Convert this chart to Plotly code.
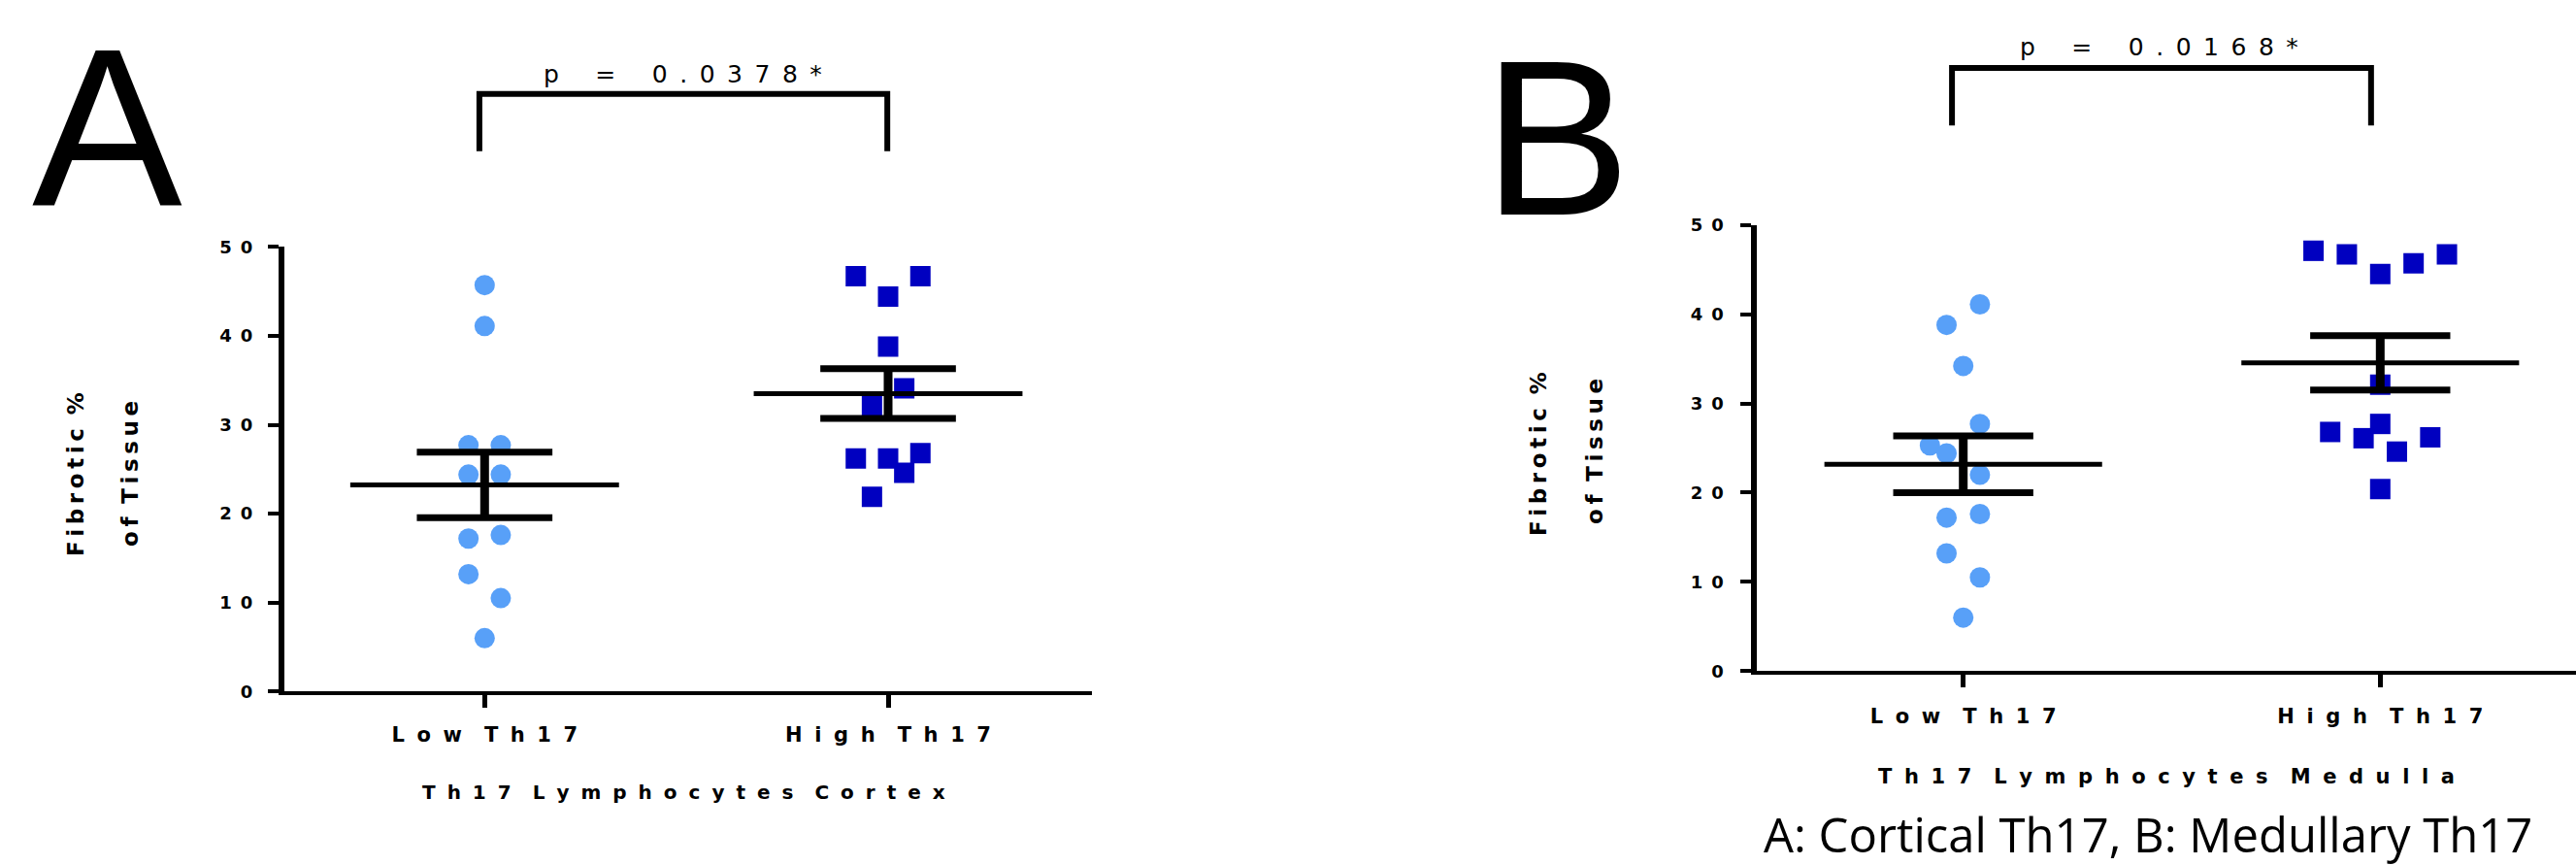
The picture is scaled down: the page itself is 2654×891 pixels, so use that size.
import numpy as np
import plotly.graph_objects as go

W, H = 2654, 891

# ---------------- data ----------------
categories = ["Low Th17", "High Th17"]
y_ticks = [0, 10, 20, 30, 40, 50]

# Panel A : cortex
low_a = [45.7, 41.1, 27.7, 27.7, 24.4, 24.4, 17.2, 17.6, 13.2, 10.5, 6.0]
low_a_slot = [0, 0, -1, 1, -1, 1, -1, 1, -1, 1, 0]
high_a = [46.7, 46.7, 44.4, 38.8, 34.1, 32.1, 26.2, 26.2, 26.8, 24.6, 21.9]
high_a_slot = [-2, 2, 0, 0, 1, -1, -2, 0, 2, 1, -1]
p_a = "p = 0.0378*"
title_a = "Th17 Lymphocytes Cortex"

# Panel B : medulla
low_b = [41.1, 38.8, 34.2, 27.7, 25.3, 24.4, 22.0, 17.2, 17.6, 13.2, 10.5, 6.0]
low_b_slot = [1, -1, 0, 1, -2, -1, 1, -1, 1, -1, 1, 0]
high_b = [47.1, 46.7, 44.5, 45.7, 46.7, 32.1, 27.7, 26.8, 26.1, 24.6, 26.2, 20.4]
high_b_slot = [-4, -2, 0, 2, 4, 0, 0, -3, -1, 1, 3, 0]
p_b = "p = 0.0168*"
title_b = "Th17 Lymphocytes Medulla"

ylab1, ylab2 = "Fibrotic %", "of Tissue"
caption = "A: Cortical Th17, B: Medullary Th17"

# ---------------- styling ----------------
LOW_COLOR = "#58a0f8"
HIGH_COLOR = "#0000c0"
SLOT = 0.04
MEAN_HALF = 0.333
CAP_HALF = 0.168
BOLD = "DejaVu Sans"
EN, EM, HAIR, THIN = "\u2002", "\u2003", "\u200a", "\u2009"


def P(xp):
    return xp / W


def Q(yp):
    return 1 - yp / H


def spaced(s, sep=EN, wsep=EM):
    return wsep.join(sep.join(list(w)) for w in s.split(" "))


fig = go.Figure()


def add_group(vals, slots, xc, symbol, color, xa, ya):
    vals = np.asarray(vals, float)
    xs = xc + np.asarray(slots) * SLOT
    fig.add_trace(go.Scatter(
        x=xs, y=vals, mode="markers", xaxis=xa, yaxis=ya,
        marker=dict(symbol=symbol, size=21, color=color, line=dict(width=0)),
        hoverinfo="skip", showlegend=False))
    m = vals.mean()
    sem = vals.std(ddof=1) / np.sqrt(len(vals))
    fig.add_trace(go.Scatter(
        x=[xc - MEAN_HALF, xc + MEAN_HALF], y=[m, m], mode="lines",
        xaxis=xa, yaxis=ya, line=dict(color="black", width=5),
        hoverinfo="skip", showlegend=False))
    fig.add_trace(go.Scatter(
        x=[xc - CAP_HALF, xc + CAP_HALF, None, xc - CAP_HALF, xc + CAP_HALF],
        y=[m + sem, m + sem, None, m - sem, m - sem], mode="lines",
        xaxis=xa, yaxis=ya, line=dict(color="black", width=7),
        hoverinfo="skip", showlegend=False))
    fig.add_trace(go.Scatter(
        x=[xc, xc], y=[m - sem, m + sem], mode="lines",
        xaxis=xa, yaxis=ya, line=dict(color="black", width=9),
        hoverinfo="skip", showlegend=False))


add_group(low_a, low_a_slot, 0, "circle", LOW_COLOR, "x", "y")
add_group(high_a, high_a_slot, 1, "square", HIGH_COLOR, "x", "y")
add_group(low_b, low_b_slot, 0, "circle", LOW_COLOR, "x2", "y2")
add_group(high_b, high_b_slot, 1, "square", HIGH_COLOR, "x2", "y2")

ytext = [spaced(str(v)) for v in y_ticks]
xtext = [spaced(c, sep=EN + HAIR, wsep=EM + HAIR) for c in categories]

common_x = dict(
    tickvals=[0, 1], ticktext=xtext, showline=True, linecolor="black",
    linewidth=4, ticks="outside", ticklen=13, tickwidth=5, tickcolor="black",
    showgrid=False, zeroline=False, fixedrange=True, automargin=False,
    tickfont=dict(family=BOLD, size=21, color="black", weight="bold"),
)
common_y = dict(
    tickvals=y_ticks, ticktext=ytext, range=[0, 50], showline=True,
    linecolor="black", linewidth=6, ticks="outside", ticklen=11, tickwidth=4,
    tickcolor="black", showgrid=False, zeroline=False, automargin=False,
    fixedrange=True,
    tickfont=dict(family=BOLD, size=18, color="black", weight="bold"),
)

# Panel A geometry (pixels)
ax_l, ax_r, ax_0, ax_1 = 293.0, 1125.0, 499.3, 915.0
sa = ax_1 - ax_0
# Panel B geometry
bx_l, bx_r, bx_0, bx_1 = 1810.3, 2654.0, 2022.7, 2452.3
sb = bx_1 - bx_0

fig.update_layout(
    width=W, height=H,
    margin=dict(l=0, r=0, t=0, b=0, pad=0, autoexpand=False),
    paper_bgcolor="white", plot_bgcolor="white", showlegend=False,
    xaxis=dict(common_x, domain=[P(ax_l), P(ax_r)],
               range=[(ax_l - ax_0) / sa, (ax_r - ax_0) / sa],
               anchor="y", ticklabelstandoff=9),
    yaxis=dict(common_y, domain=[Q(712.3), Q(254.3)], anchor="x",
               ticklabelstandoff=12),
    xaxis2=dict(common_x, domain=[P(bx_l), P(bx_r)],
                range=[(bx_l - bx_0) / sb, (bx_r - bx_0) / sb],
                anchor="y2", ticklabelstandoff=11),
    yaxis2=dict(common_y, domain=[Q(691.3), Q(231.7)], anchor="x2",
                ticklabelstandoff=14),
)

ann = []


def add_text(text, xp, yp, font, angle=0, yanchor="middle"):
    ann.append(dict(text=text, x=P(xp), y=Q(yp), xref="paper", yref="paper",
                    xanchor="center", yanchor=yanchor, showarrow=False,
                    textangle=angle, font=font))


big = dict(family="Liberation Sans", size=232, color="black")
add_text("A", 110, 0, big, yanchor="top")
add_text("B", 1604, 13, dict(big, size=228), yanchor="top")

pfont = dict(family="DejaVu Sans", size=25, color="black")


def pspaced(s):
    return (EN + EM).join(EN.join(list(w)) for w in s.split(" "))


add_text(pspaced(p_a), 703, 76, pfont)
add_text(pspaced(p_b), 2224, 49, pfont)

add_text(spaced(title_a, sep=EN + HAIR, wsep=EM + HAIR), 704, 816,
         dict(family=BOLD, size=20, color="black", weight="bold"))
add_text(spaced(title_b, sep=EN + HAIR, wsep=EM + HAIR), 2232, 800,
         dict(family=BOLD, size=21, color="black", weight="bold"))

yfont = dict(family=BOLD, size=23, color="black", weight="bold")
ys1 = spaced(ylab1, sep=THIN, wsep=THIN * 3)
ys2 = spaced(ylab2, sep=THIN, wsep=THIN * 3)
add_text(ys1, 78, 489, yfont, -90)
add_text(ys2, 134, 488, yfont, -90)
add_text(ys1, 1585, 468, yfont, -90)
add_text(ys2, 1643, 465, yfont, -90)

add_text(caption, 2213, 894, dict(family="Open Sans", size=49, color="black"),
         yanchor="bottom")

fig.update_layout(annotations=ann)


def bracket(xref, x0, x1, ytop, ybot):
    fig.add_shape(type="path", xref=xref, yref="paper",
                  path=f"M {x0},{Q(ybot)} L {x0},{Q(ytop)} L {x1},{Q(ytop)} L {x1},{Q(ybot)}",
                  line=dict(color="black", width=6))


bracket("x", -0.013, 0.998, 96.7, 155.7)
bracket("x2", -0.027, 0.978, 70.0, 129.3)

fig.write_html("out.html", config={"displayModeBar": False},
               post_script="document.body.style.margin='0';")
